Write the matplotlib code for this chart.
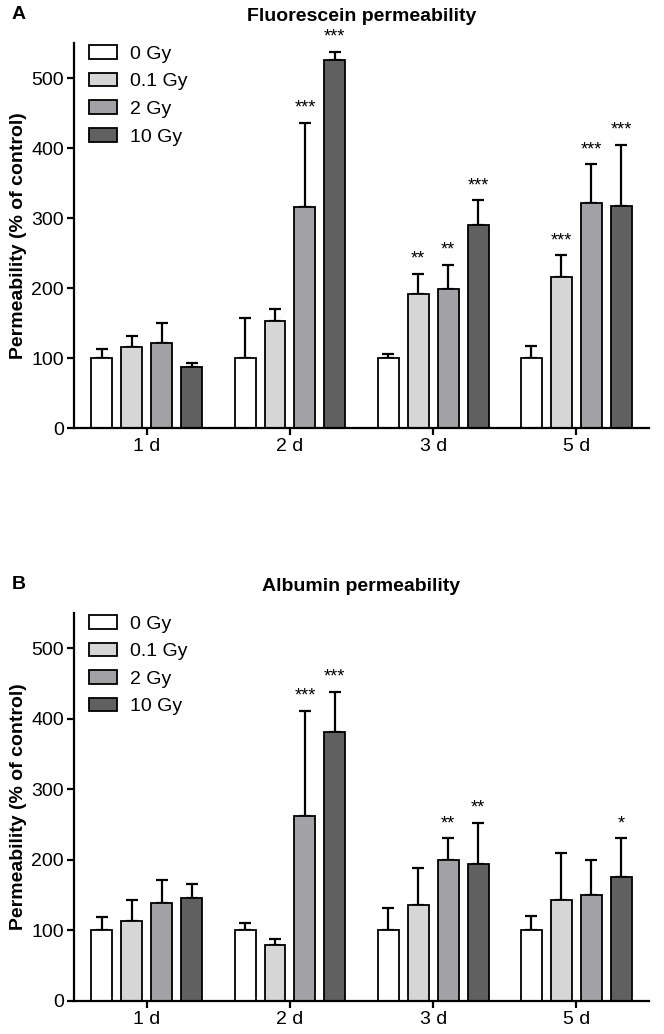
import numpy as np
import matplotlib.pyplot as plt

plt.rcParams['font.family'] = ['Liberation Sans', 'DejaVu Sans']

days = ['1 d', '2 d', '3 d', '5 d']
doses = ['0 Gy', '0.1 Gy', '2 Gy', '10 Gy']
colors = ['#ffffff', '#d6d6d6', '#a2a2a6', '#606060']

# panel A - fluorescein (mean, upper SD)
fluo_mean = [
    [100, 100, 100, 100],
    [116.5, 153.7, 191, 216],
    [122, 316, 199, 322],
    [88, 526, 291, 317],
]
fluo_sd = [
    [13, 57, 6.5, 17],
    [15.5, 16, 29, 31],
    [28, 120, 34, 55],
    [4.7, 12, 34.6, 87.5],
]
fluo_stars = [
    ['', '', '', ''],
    ['', '', '**', '***'],
    ['', '***', '**', '***'],
    ['', '***', '***', '***'],
]

# panel B - albumin
alb_mean = [
    [100, 100, 100, 100],
    [113.7, 79.7, 135.8, 143.4],
    [139, 262.7, 200.5, 150.5],
    [146, 381.6, 194.3, 176.4],
]
alb_sd = [
    [19, 11, 32, 21],
    [30, 8, 53, 66],
    [32, 149, 30, 50],
    [20, 57, 58, 54],
]
alb_stars = [
    ['', '', '', ''],
    ['', '', '', ''],
    ['', '***', '**', ''],
    ['', '***', '**', '*'],
]


def panel(ax, means, sds, stars, title, letter):
    x = np.arange(len(days))
    step = 0.209
    w = 0.146
    for i in range(len(doses)):
        pos = x + (i - 1.5) * step
        m = np.array(means[i])
        s = np.array(sds[i])
        ax.errorbar(pos, m, yerr=[np.zeros_like(s), s], fmt='none', ecolor='black',
                    elinewidth=1.6, capsize=4.3, capthick=1.6, zorder=1)
        ax.bar(pos, m, width=w, color=colors[i], edgecolor='black', linewidth=1.3,
               label=doses[i], zorder=2)
        for j in range(len(days)):
            if stars[i][j]:
                ax.annotate(stars[i][j], (pos[j], m[j] + s[j]), xytext=(0, 4.5),
                            textcoords='offset points', ha='center', va='bottom',
                            fontsize=13)
    ax.set_xlim(-0.51, 3.51)
    ax.set_ylim(0, 550)
    ax.set_yticks([0, 100, 200, 300, 400, 500])
    ax.set_xticks(x)
    ax.set_xticklabels(days)
    ax.tick_params(axis='both', labelsize=14, width=1.6, length=5, direction='out', pad=2)
    ax.spines['top'].set_visible(False)
    ax.spines['right'].set_visible(False)
    ax.spines['left'].set_linewidth(1.6)
    ax.spines['bottom'].set_linewidth(1.6)
    ax.set_ylabel('Permeability (% of control)', fontsize=14, fontweight='bold', labelpad=3)
    ax.set_title(title, fontsize=14, fontweight='bold', pad=16)
    ax.legend(loc='upper left', bbox_to_anchor=(0.026, 0.995), frameon=False, fontsize=14,
              handlelength=1.45, handleheight=0.7, labelspacing=0.51, handletextpad=0.65,
              borderaxespad=0, borderpad=0)
    ax.text(-0.108, 1.075, letter, transform=ax.transAxes, fontsize=14, fontweight='bold',
            va='center')


fig = plt.figure(figsize=(6.64, 10.34), dpi=100)
axA = fig.add_axes([0.111, 0.586, 0.867, 0.372])
axB = fig.add_axes([0.111, 0.032, 0.867, 0.375])
panel(axA, fluo_mean, fluo_sd, fluo_stars, 'Fluorescein permeability', 'A')
panel(axB, alb_mean, alb_sd, alb_stars, 'Albumin permeability', 'B')
fig.savefig('out.png', dpi=100)
